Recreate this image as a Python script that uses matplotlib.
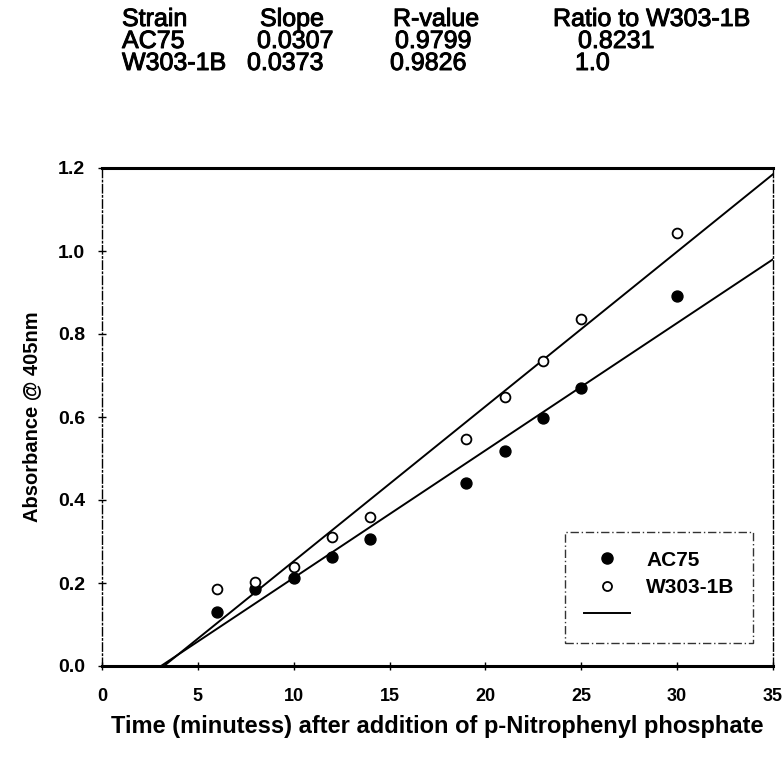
import numpy as np
import matplotlib
matplotlib.use("Agg")
import matplotlib.pyplot as plt
from matplotlib.lines import Line2D
import matplotlib.patheffects as pe

plt.rcParams['font.family'] = ['Liberation Sans', 'DejaVu Sans']

# Data
time_ac75 = [6, 8, 10, 12, 14, 19, 21, 23, 25, 30]
abs_ac75 = [0.130, 0.186, 0.213, 0.263, 0.307, 0.441, 0.518, 0.598, 0.671, 0.892]
time_w303 = [6, 8, 10, 12, 14, 19, 21, 23, 25, 30]
abs_w303 = [0.186, 0.202, 0.239, 0.311, 0.359, 0.546, 0.648, 0.734, 0.837, 1.043]

strains = ["AC75", "W303-1B"]
slopes = [0.0307, 0.0373]
intercepts = [-0.0945, -0.1205]
slope_text = ["0.0307", "0.0373"]
r_values = ["0.9799", "0.9826"]
ratios = ["0.8231", "1.0"]
headers = ["Strain", "Slope", "R-value", "Ratio to W303-1B"]

xticks = [0, 5, 10, 15, 20, 25, 30, 35]
yticks = [0.0, 0.2, 0.4, 0.6, 0.8, 1.0, 1.2]

W, H = 784, 757
fig = plt.figure(figsize=(W / 100, H / 100), dpi=100)
L, R, T, B = 102, 773, 168, 666
ax = fig.add_axes([L / W, 1 - B / H, (R - L) / W, (B - T) / H])

ax.scatter(time_ac75, abs_ac75, s=62, facecolor='black', edgecolor='black', zorder=3)
ax.scatter(time_w303, abs_w303, s=50, facecolor='white', edgecolor='black', linewidth=1.3, zorder=3)

for m, b in zip(slopes, intercepts):
    x0 = -b / m
    xs = np.array([x0, 35.0])
    ax.plot(xs, m * xs + b, color='black', linewidth=1.4, zorder=2)

ax.set_xlim(0, 35)
ax.set_ylim(0, 1.2)
ax.set_xticks(xticks)
ax.set_xticklabels([str(t) for t in xticks], fontsize=13, fontweight='bold')
ax.set_yticks(yticks)
ax.set_yticklabels([f"{t:.1f}" for t in yticks], fontsize=14, fontweight='bold')
ax.tick_params(axis='both', direction='inout', length=6, width=1)
ax.tick_params(axis='x', pad=13)
ax.tick_params(axis='y', pad=9)

for side in ['left', 'right']:
    ax.spines[side].set_linestyle((0, (6, 2, 1, 2)))
    ax.spines[side].set_linewidth(1.0)
ax.spines['top'].set_linewidth(2.2)
ax.spines['bottom'].set_linewidth(2.2)

ax.set_xlabel("Time (minutess) after addition of p-Nitrophenyl phosphate",
              fontsize=17, fontweight='bold', labelpad=7)
ax.set_ylabel("Absorbance @ 405nm", fontsize=14.5, fontweight='bold', labelpad=12)

handles = [
    Line2D([], [], marker='o', linestyle='none', markerfacecolor='black',
           markeredgecolor='black', markersize=8),
    Line2D([], [], marker='o', linestyle='none', markerfacecolor='white',
           markeredgecolor='black', markersize=6.5, markeredgewidth=1.3),
    Line2D([], [], color='black', linewidth=1.4),
]
bx0 = (565 - L) / (R - L)
bx1 = (753 - L) / (R - L)
by0 = (B - 643) / (B - T)
leg = ax.legend(handles, strains + [""], loc='lower left', mode='expand',
                bbox_to_anchor=(bx0, by0, bx1 - bx0, 0.2),
                prop={'weight': 'bold', 'size': 15},
                frameon=True, fancybox=False, borderpad=0.9, handlelength=2.2,
                handletextpad=0.8, labelspacing=0.4, borderaxespad=0)
leg.get_frame().set_edgecolor('black')
leg.get_frame().set_linestyle((0, (6, 2, 1, 2)))
leg.get_frame().set_linewidth(1.0)

# Table at top
stroke = [pe.withStroke(linewidth=0.7, foreground='black')]
def put(xpx, ypx, s):
    fig.text(xpx / W, 1 - ypx / H, s, fontsize=18, va='center', ha='left',
             path_effects=stroke)

head_x = [122, 260, 393, 553]
for hx, h in zip(head_x, headers):
    put(hx, 19, h)
rows_y = [41, 63]
slope_x = [257, 247]
r_x = [395, 390]
ratio_x = [578, 575]
for i in range(2):
    put(122, rows_y[i], strains[i])
    put(slope_x[i], rows_y[i], slope_text[i])
    put(r_x[i], rows_y[i], r_values[i])
    put(ratio_x[i], rows_y[i], ratios[i])

fig.savefig("out.png", dpi=100)
